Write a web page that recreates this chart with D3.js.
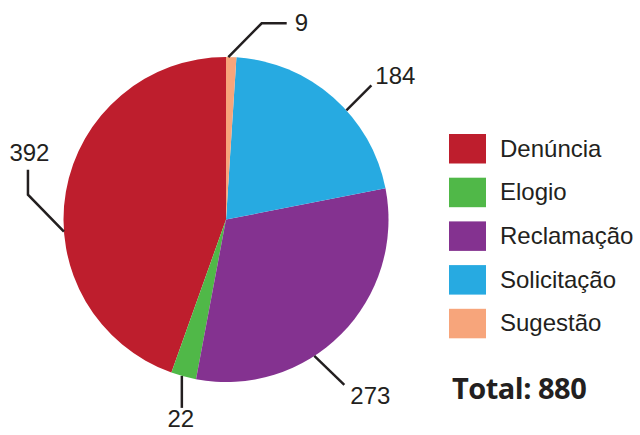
<!DOCTYPE html>
<html>
<head>
<meta charset="utf-8">
<script src="https://cdn.jsdelivr.net/npm/d3@7"></script>
<style>
  body { margin: 0; background: #fff; }
  svg { display: block; }
</style>
</head>
<body>
<div id="chart"></div>
<script>
// data
const categories = ["Denúncia", "Elogio", "Reclamação", "Solicitação", "Sugestão"];
const values = [392, 22, 273, 184, 9];
const colors = ["#be1e2d", "#50b848", "#843290", "#27aae1", "#f7a57b"];

const width = 640, height = 435;
const cx = 226, cy = 219.5, radius = 162.5;

const svg = d3.select("#chart")
    .append("svg")
    .attr("width", width)
    .attr("height", height);

// pie goes counterclockwise from the top, in legend order
const pie = d3.pie().sort(null).startAngle(2 * Math.PI).endAngle(0);
const arcs = pie(values);

const arc = d3.arc().innerRadius(0).outerRadius(radius);

const g = svg.append("g").attr("transform", `translate(${cx},${cy})`);

g.selectAll("path")
    .data(arcs)
    .enter().append("path")
    .attr("d", arc)
    .attr("fill", function(d, i) { return colors[i]; });

// leader lines: where on the slice they attach (0..1 across the slice) and how they bend
const leaders = [
  { t: 0.588, path: [[-36, -37], [0, -25]], label: [1.5, -8.5], anchor: "middle" },
  { t: 0.43, path: [[0, 32]], label: [-1, 19.5], anchor: "middle" },
  { t: 0.39, path: [[30, 29]], label: [6, 19], anchor: "start" },
  { t: 0.414, path: [[25, -25]], label: [4, -1], anchor: "start" },
  { t: 0.78, path: [[33.4, -33.7], [25, 0]], label: [8, 8], anchor: "start" }
];

const lab = svg.append("g");

arcs.forEach(function(d, i) {
  const L = leaders[i];
  // angle from top, clockwise
  const a = d.startAngle + (d.endAngle - d.startAngle) * L.t;
  let x = cx + radius * Math.sin(a);
  let y = cy - radius * Math.cos(a);
  const pts = [[x, y]];
  L.path.forEach(function(p) {
    x += p[0]; y += p[1];
    pts.push([x, y]);
  });
  lab.append("path")
      .attr("d", d3.line()(pts))
      .attr("fill", "none")
      .attr("stroke", "#231f20")
      .attr("stroke-width", 2.5);
  lab.append("text")
      .attr("x", x + L.label[0])
      .attr("y", y + L.label[1])
      .attr("text-anchor", L.anchor)
      .attr("font-family", "Liberation Sans, Arial, sans-serif")
      .attr("font-size", 24)
      .attr("fill", "#231f20")
      .text(values[i]);
});

// legend
const legend = svg.append("g").attr("transform", "translate(449,134)");
const item = legend.selectAll("g")
    .data(categories)
    .enter().append("g")
    .attr("transform", function(d, i) { return `translate(0,${i * 43.7})`; });

item.append("rect")
    .attr("width", 37)
    .attr("height", 29.5)
    .attr("fill", function(d, i) { return colors[i]; });

item.append("text")
    .attr("x", 51)
    .attr("y", 22.7)
    .attr("font-family", "Liberation Sans, Arial, sans-serif")
    .attr("font-size", 24)
    .attr("fill", "#231f20")
    .text(function(d) { return d; });

// total
svg.append("text")
    .attr("x", 452)
    .attr("y", 399)
    .attr("font-family", "Open Sans, sans-serif")
    .attr("font-weight", "bold")
    .attr("font-size", 29)
    .attr("letter-spacing", -0.5)
    .attr("fill", "#231f20")
    .text("Total: " + d3.sum(values));
</script>
</body>
</html>
